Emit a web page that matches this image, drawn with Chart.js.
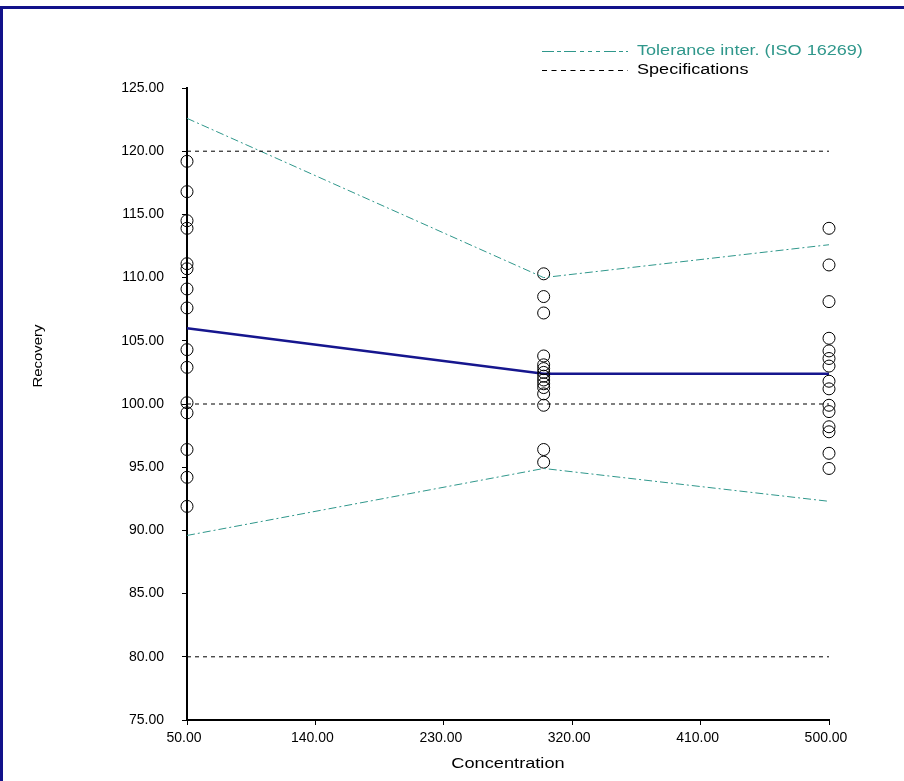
<!DOCTYPE html>
<html>
<head>
<meta charset="utf-8">
<script src="https://cdn.jsdelivr.net/npm/chart.js@4.4.1/dist/chart.umd.min.js"></script>
<style>
  html, body { margin: 0; padding: 0; background: #ffffff; }
  #wrap { width: 904px; height: 781px; position: relative; }
</style>
</head>
<body>
<div id="wrap"><canvas id="c" width="904" height="781"></canvas></div>
<script>
// ---- Data ----
const concentrations = [50, 300, 500];
const recoveryAt50  = [119.2, 116.8, 114.5, 113.9, 111.1, 110.7, 109.1, 107.6, 104.3, 102.9, 100.1, 99.3, 96.4, 94.2, 91.9];
const recoveryAt300 = [110.3, 108.5, 107.2, 103.8, 103.1, 102.8, 102.5, 102.2, 101.9, 101.6, 101.3, 100.8, 99.9, 96.4, 95.4];
const recoveryAt500 = [113.9, 111.0, 108.1, 105.2, 104.2, 103.6, 103.0, 101.8, 101.2, 99.9, 99.4, 98.2, 97.8, 96.1, 94.9];
const meanRecovery   = [106.0, 102.4, 102.4];
const toleranceUpper = [122.6, 110.0, 112.6];
const toleranceLower = [89.6, 94.9, 92.3];
const specLimits     = [80, 100, 120];
const xRange = [50, 500];
const yRange = [75, 125];
const xStep = 90;
const yStep = 5;
const legendLabels = ["Tolerance inter. (ISO 16269)", "Specifications"];
const xTitle = "Concentration";
const yTitle = "Recovery";

// ---- Styles ----
const TEAL = '#2f978b';
const NAVY = '#16168e';
const FONT = '"Liberation Sans", Arial, sans-serif';

const groups = [recoveryAt50, recoveryAt300, recoveryAt500];
const scatterPoints = [];
groups.forEach((vals, i) => vals.forEach(v => scatterPoints.push({ x: concentrations[i], y: v })));

const toXY = arr => arr.map((v, i) => ({ x: concentrations[i], y: v }));

const lineBase = { type: 'line', showLine: true, pointRadius: 0, pointHoverRadius: 0, fill: false, tension: 0, clip: false };

const datasets = [];
specLimits.forEach(s => {
  datasets.push(Object.assign({}, lineBase, {
    label: 'Specifications', data: [{ x: xRange[0], y: s }, { x: xRange[1], y: s }],
    borderColor: '#000000', borderWidth: 1, borderDash: [4, 4]
  }));
});
datasets.push(Object.assign({}, lineBase, {
  label: 'Tolerance upper', data: toXY(toleranceUpper),
  borderColor: TEAL, borderWidth: 1, borderDash: [8, 3, 2, 3]
}));
datasets.push(Object.assign({}, lineBase, {
  label: 'Tolerance lower', data: toXY(toleranceLower),
  borderColor: TEAL, borderWidth: 1, borderDash: [8, 3, 2, 3]
}));
datasets.push({
  type: 'scatter', label: 'Recovery', data: scatterPoints, showLine: false,
  pointRadius: 6, pointHoverRadius: 6, pointBorderWidth: 1,
  pointBorderColor: '#000000', pointBackgroundColor: 'rgba(0,0,0,0)', clip: false
});
datasets.push(Object.assign({}, lineBase, {
  label: 'Mean', data: toXY(meanRecovery),
  borderColor: NAVY, borderWidth: 2.5
}));

function stretchedText(ctx, text, x, y, sx) {
  ctx.save();
  ctx.translate(x, y);
  ctx.scale(sx, 1);
  ctx.fillText(text, 0, 0);
  ctx.restore();
}

const overlay = {
  id: 'overlay',
  afterDraw(chart) {
    const ctx = chart.ctx;
    const area = chart.chartArea;
    ctx.save();
    // frame
    ctx.fillStyle = '#12128a';
    ctx.fillRect(0, 6, 904, 3);
    ctx.fillRect(0, 6, 3, 781);
    // legend
    const lx0 = 542, lx1 = 628, tx = 637;
    ctx.lineWidth = 1;
    ctx.strokeStyle = TEAL;
    ctx.setLineDash([12, 3, 4, 3, 12, 4, 4, 4, 4, 4, 4, 4]);
    ctx.beginPath(); ctx.moveTo(lx0, 51.5); ctx.lineTo(lx1, 51.5); ctx.stroke();
    ctx.strokeStyle = '#000000';
    ctx.setLineDash([5, 4.5]);
    ctx.beginPath(); ctx.moveTo(lx0, 70.5); ctx.lineTo(lx1, 70.5); ctx.stroke();
    ctx.setLineDash([]);
    ctx.font = '14px ' + FONT;
    ctx.textBaseline = 'middle';
    ctx.textAlign = 'left';
    ctx.fillStyle = TEAL;
    stretchedText(ctx, legendLabels[0], tx, 51, 1.29);
    ctx.fillStyle = '#000000';
    stretchedText(ctx, legendLabels[1], tx, 70, 1.29);
    // axis titles
    ctx.font = '14px ' + FONT;
    ctx.textAlign = 'center';
    stretchedText(ctx, xTitle, (area.left + area.right) / 2, 764, 1.3);
    ctx.translate(38, 356);
    ctx.rotate(-Math.PI / 2);
    ctx.font = '13px ' + FONT;
    stretchedText(ctx, yTitle, 0, 0, 1.15);
    ctx.restore();
  }
};

new Chart(document.getElementById('c'), {
  type: 'scatter',
  data: { datasets },
  options: {
    responsive: false,
    animation: false,
    devicePixelRatio: 1,
    layout: { padding: { left: 0, top: 88, right: 75, bottom: 0 } },
    plugins: { legend: { display: false }, tooltip: { enabled: false } },
    scales: {
      x: {
        type: 'linear', min: xRange[0], max: xRange[1],
        afterFit(s) { s.height = 61; },
        border: { display: true, color: '#000000', width: 2 },
        grid: { drawOnChartArea: false, drawTicks: true, tickLength: 5, color: '#000000', lineWidth: 1 },
        ticks: { stepSize: xStep, color: '#000000', padding: 5, labelOffset: -3,
                 font: { family: FONT, size: 14 }, callback: v => Number(v).toFixed(2), maxRotation: 0, autoSkip: false }
      },
      y: {
        type: 'linear', min: yRange[0], max: yRange[1],
        afterFit(s) { s.width = 187; },
        border: { display: true, color: '#000000', width: 2 },
        grid: { drawOnChartArea: false, drawTicks: true, tickLength: 5, color: '#000000', lineWidth: 1 },
        ticks: { stepSize: yStep, color: '#000000', padding: 18,
                 font: { family: FONT, size: 14 }, callback: v => Number(v).toFixed(2), autoSkip: false }
      }
    }
  },
  plugins: [overlay]
});
</script>
</body>
</html>
